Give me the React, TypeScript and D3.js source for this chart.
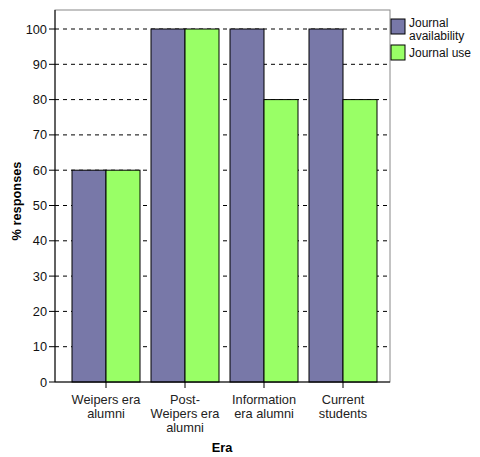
import React from "react";
import * as d3 from "d3";

const categories: string[][] = [
  ["Weipers era", "alumni"],
  ["Post-", "Weipers era", "alumni"],
  ["Information", "era alumni"],
  ["Current", "students"],
];
const availability = [60, 100, 100, 100];
const use = [60, 100, 80, 80];
const seriesNames = [["Journal", "availability"], ["Journal use"]];
const yTicks = [0, 10, 20, 30, 40, 50, 60, 70, 80, 90, 100];

const COLORS = ["#7878a8", "#99ff66"];
const FONT = "Liberation Sans, Arial, Helvetica, sans-serif";

export default function App() {
  const W = 480, H = 457;
  const left = 55, right = 390, top = 10, bottom = 382;
  const y = d3.scaleLinear().domain([0, 100]).range([382, 29]);
  const keys = categories.map((_, i) => String(i));
  const x = d3.scaleBand<string>().domain(keys).range([72, 377]).paddingInner(11 / 79).paddingOuter(0);
  const sub = d3.scaleBand<string>().domain(["a", "u"]).range([0, x.bandwidth()]);
  const series = [availability, use];
  const fs = 12.8;

  return (
    <svg width={W} height={H} style={{ position: "absolute", left: 0, top: 0 }} fontFamily={FONT}>
      <rect x={0} y={0} width={W} height={H} fill="white" />
      <rect x={left} y={top} width={right - left} height={bottom - top} fill="none" stroke="#888" strokeWidth={1} />
      {yTicks.filter((t) => t > 0).map((t) => (
        <line key={t} x1={left} x2={right} y1={y(t)} y2={y(t)} stroke="#000" strokeWidth={1} strokeDasharray="4,4" />
      ))}
      {keys.map((k, i) =>
        series.map((s, j) => (
          <rect
            key={k + j}
            x={(x(k) as number) + (sub(j === 0 ? "a" : "u") as number)}
            y={y(s[i])}
            width={sub.bandwidth()}
            height={y(0) - y(s[i])}
            fill={COLORS[j]}
            stroke="#000"
            strokeWidth={1}
          />
        ))
      )}
      <line x1={left} x2={left} y1={top} y2={bottom} stroke="#000" />
      <line x1={left} x2={right} y1={bottom} y2={bottom} stroke="#000" />
      {yTicks.map((t) => (
        <g key={t}>
          <line x1={left - 6} x2={left} y1={y(t)} y2={y(t)} stroke="#000" />
          <text x={left - 8} y={y(t) + 4.5} textAnchor="end" fontSize={fs} fill="#111">{t}</text>
        </g>
      ))}
      {keys.map((k, i) => {
        const cx = (x(k) as number) + x.bandwidth() / 2;
        return (
          <g key={k}>
            <line x1={cx} x2={cx} y1={bottom} y2={bottom + 6} stroke="#000" />
            <text x={cx} y={404} textAnchor="middle" fontSize={fs} fill="#222">
              {categories[i].map((l, li) => (
                <tspan key={li} x={cx} dy={li === 0 ? 0 : 13.8}>{l}</tspan>
              ))}
            </text>
          </g>
        );
      })}
      <text x={222} y={452} textAnchor="middle" fontSize={fs} fontWeight="bold">Era</text>
      <text transform={`translate(21,201) rotate(-90)`} textAnchor="middle" fontSize={fs} fontWeight="bold">% responses</text>
      {seriesNames.map((n, j) => {
        const by = j === 0 ? 19 : 45;
        return (
          <g key={j}>
            <rect x={391} y={by} width={14} height={15} fill={COLORS[j]} stroke="#000" />
            <text x={409} y={j === 0 ? 27 : 57} fontSize={12} fill="#111">
              {n.map((l, li) => (
                <tspan key={li} x={409} dy={li === 0 ? 0 : 13}>{l}</tspan>
              ))}
            </text>
          </g>
        );
      })}
    </svg>
  );
}
